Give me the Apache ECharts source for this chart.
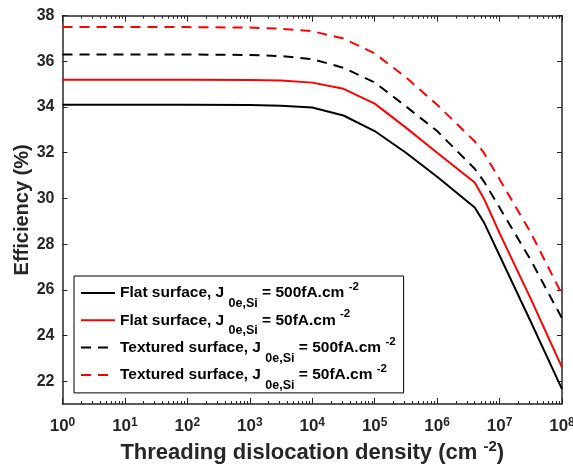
<!DOCTYPE html>
<html>
<head>
<meta charset="utf-8">
<script src="https://cdn.jsdelivr.net/npm/echarts@6/dist/echarts.min.js"></script>
<style>
  html, body { margin: 0; padding: 0; background: #fff; }
  #chart { width: 573px; height: 468px; }
</style>
</head>
<body>
<div id="chart"></div>
<script>
// threading dislocation density (cm^-2)
const density = [1, 10, 100, 1000, 3162, 1e4, 31623, 1e5, 316228, 1e6, 4e6, 5.6e6, 1e7, 31622777, 1e8];

// efficiency (%) for each curve
const flat500 = [34.1, 34.1, 34.1, 34.09, 34.06, 33.98, 33.63, 32.95, 32.0, 30.95, 29.6, 28.96, 27.5, 24.6, 21.65];
const flat50 = [35.2, 35.2, 35.2, 35.19, 35.16, 35.07, 34.8, 34.15, 33.1, 32.0, 30.7, 30.0, 28.48, 25.6, 22.6];
const tex500 = [36.3, 36.3, 36.3, 36.28, 36.23, 36.1, 35.72, 35.08, 34.03, 32.95, 31.3, 30.75, 29.6, 27.3, 24.75];
const tex50 = [37.5, 37.5, 37.5, 37.48, 37.43, 37.32, 37.0, 36.35, 35.3, 34.1, 32.5, 32.0, 30.84, 28.5, 25.8];

// tick labels
const yTicks = [22, 24, 26, 28, 30, 32, 34, 36, 38];
const xMinorTicks = [];
for (let e = 0; e < 8; e++) {
    for (let k = 2; k <= 9; k++) xMinorTicks.push(k * Math.pow(10, e));
}

const seriesNames = ['flat500', 'flat50', 'tex500', 'tex50'];
const legendParts = {
    flat500: ['Flat surface, J', ' = 500fA.cm'],
    flat50: ['Flat surface, J', ' = 50fA.cm'],
    tex500: ['Textured surface, J', ' = 500fA.cm'],
    tex50: ['Textured surface, J', ' = 50fA.cm']
};

const FONT = '"Liberation Sans", Arial, sans-serif';
const AXIS_COLOR = '#262626';

function pairs(values) {
    return density.map((d, i) => [d, values[i]]);
}

const chart = echarts.init(document.getElementById('chart'));

const xCommon = {
    type: 'log',
    logBase: 10,
    min: 1,
    max: 1e8,
    offset: 0,
    splitLine: { show: false },
    axisLine: { lineStyle: { color: AXIS_COLOR, width: 1.5 } },
    axisTick: { inside: true, length: 6, lineStyle: { color: AXIS_COLOR } },
    axisLabel: { show: false }
};
// extra axes only used to draw the minor log ticks
const xMinor = Object.assign({}, xCommon, {
    axisLine: { show: false },
    axisTick: { inside: true, length: 3, customValues: xMinorTicks, lineStyle: { color: AXIS_COLOR } },
    axisLabel: { show: false, customValues: xMinorTicks }
});
const yCommon = {
    type: 'value',
    min: 21,
    max: 38,
    splitLine: { show: false },
    axisLine: { show: true, lineStyle: { color: AXIS_COLOR, width: 1.5 } },
    axisTick: { show: true, inside: true, length: 5, customValues: yTicks, lineStyle: { color: AXIS_COLOR } }
};

const legendText = { fontFamily: FONT, fontWeight: 'bold', color: '#000', verticalAlign: 'middle' };

chart.setOption({
    animation: false,
    grid: { left: 62.5, right: 11, top: 15.7, bottom: 64, outerBoundsMode: 'none' },
    xAxis: [
        Object.assign({}, xCommon, {
            position: 'bottom',
            name: 'Threading dislocation density (cm {s|-2})',
            nameLocation: 'middle',
            nameGap: 35,
            nameMoveOverlap: false,
            nameTextStyle: {
                fontFamily: FONT, fontSize: 22, fontWeight: 'bold', color: AXIS_COLOR,
                rich: {
                    s: { fontFamily: FONT, fontSize: 15, fontWeight: 'bold', color: AXIS_COLOR, verticalAlign: 'top', padding: [0, 0, 12, 0] }
                }
            },
            axisLabel: {
                show: true,
                margin: 13,
                formatter: function (v) {
                    return '{b|10}{e|' + Math.round(Math.log10(v)) + '}';
                },
                rich: {
                    b: { fontFamily: FONT, fontSize: 17, fontWeight: 'bold', color: AXIS_COLOR },
                    e: { fontFamily: FONT, fontSize: 12, fontWeight: 'bold', color: AXIS_COLOR, verticalAlign: 'top', padding: [0, 0, 7, 0] }
                }
            }
        }),
        Object.assign({}, xCommon, { position: 'top' }),
        Object.assign({}, xMinor, { position: 'bottom' }),
        Object.assign({}, xMinor, { position: 'top' })
    ],
    yAxis: [
        Object.assign({}, yCommon, {
            position: 'left',
            name: 'Efficiency (%)',
            nameLocation: 'middle',
            nameGap: 30,
            nameMoveOverlap: false,
            nameTextStyle: { fontFamily: FONT, fontSize: 20, fontWeight: 'bold', color: AXIS_COLOR },
            axisLabel: {
                margin: 8,
                customValues: yTicks,
                fontFamily: FONT, fontSize: 16, fontWeight: 'bold', color: AXIS_COLOR
            }
        }),
        Object.assign({}, yCommon, {
            position: 'right',
            axisLabel: { show: false, customValues: yTicks }
        })
    ],
    legend: {
        orient: 'vertical',
        left: 74,
        top: 276,
        itemWidth: 34,
        itemHeight: 10,
        itemGap: -1.7,
        padding: [5, 8, 1, 6],
        borderColor: '#000',
        borderWidth: 1,
        backgroundColor: '#fff',
        itemStyle: { opacity: 0 },
        data: seriesNames,
        formatter: function (name) {
            const p = legendParts[name];
            return '{t|' + p[0] + ' }{sub|0e,Si}{t|' + p[1] + ' }{sup|-2}';
        },
        textStyle: {
            fontFamily: FONT,
            fontSize: 15.5,
            fontWeight: 'bold',
            color: '#000',
            rich: {
                t: Object.assign({ fontSize: 15.5, lineHeight: 36 }, legendText),
                sub: Object.assign({ fontSize: 12.5, padding: [21, 0, 0, 0] }, legendText),
                sup: Object.assign({ fontSize: 11.5, padding: [0, 0, 12, 0] }, legendText)
            }
        }
    },
    series: [
        {
            name: 'flat500', type: 'line', data: pairs(flat500), symbol: 'none',
            lineStyle: { color: '#000', width: 2 }, itemStyle: { color: '#000' }
        },
        {
            name: 'flat50', type: 'line', data: pairs(flat50), symbol: 'none',
            lineStyle: { color: '#ff0000', width: 2 }, itemStyle: { color: '#ff0000' }
        },
        {
            name: 'tex500', type: 'line', data: pairs(tex500), symbol: 'none',
            lineStyle: { color: '#000', width: 2, type: [10, 7] }, itemStyle: { color: '#000' }
        },
        {
            name: 'tex50', type: 'line', data: pairs(tex50), symbol: 'none',
            lineStyle: { color: '#ff0000', width: 2, type: [10, 7] }, itemStyle: { color: '#ff0000' }
        }
    ]
});
</script>
</body>
</html>
